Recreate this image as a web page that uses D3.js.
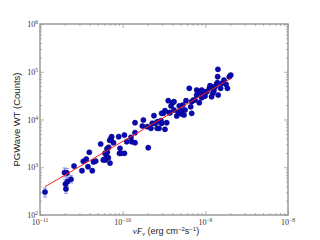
<!DOCTYPE html>
<html>
<head>
<meta charset="utf-8">
<script src="https://cdn.jsdelivr.net/npm/d3@7"></script>
<style>
  body { margin: 0; background: #fff; }
  svg { display: block; }
</style>
</head>
<body>
<div id="chart"></div>
<script>
// energy flux (erg cm^-2 s^-1) and PGWave WT counts
var fluxVals = [1.15e-11, 1.98e-11, 2.12e-11, 2.03e-11, 2.06e-11, 2.14e-11, 2.37e-11, 2.58e-11, 3.22e-11, 3.34e-11,
  3.63e-11, 3.81e-11, 3.95e-11, 4.29e-11, 4.44e-11, 4.72e-11, 5.42e-11, 5.83e-11, 6.16e-11, 6.41e-11,
  6.52e-11, 6.78e-11, 7.03e-11, 7.23e-11, 7.36e-11, 7.74e-11, 8.95e-11, 9.16e-11, 9.55e-11, 9.29e-11,
  1.05e-10, 1.05e-10, 1.12e-10, 1.26e-10, 1.29e-10, 1.41e-10, 1.41e-10, 1.41e-10, 2.04e-10, 1.78e-10,
  1.73e-10, 1.99e-10, 2.39e-10, 2.28e-10, 2.46e-10, 2.65e-10, 2.75e-10, 2.91e-10, 3.10e-10, 2.20e-10,
  2.62e-10, 2.96e-10, 3.41e-10, 3.74e-10, 3.85e-10, 3.56e-10, 4.03e-10, 4.18e-10, 4.51e-10, 4.71e-10,
  5.04e-10, 5.18e-10, 5.52e-10, 5.68e-10, 5.32e-10, 5.84e-10, 6.40e-10, 6.84e-10, 7.50e-10, 7.86e-10,
  7.86e-10, 8.22e-10, 8.61e-10, 9.03e-10, 8.45e-10, 9.03e-10, 9.91e-10, 1.04e-9, 1.12e-9, 1.17e-9,
  1.23e-9, 1.31e-9, 1.37e-9, 1.43e-9, 1.42e-9, 1.41e-9, 1.40e-9, 1.53e-9, 1.58e-9, 1.68e-9,
  1.78e-9, 1.85e-9, 1.95e-9, 2.03e-9, 9.29e-10, 1.19e-9, 1.14e-9, 1.27e-9, 9.63e-10, 7.16e-10,
  6.65e-10, 6.84e-10, 4.18e-10, 4.84e-10, 3.25e-10, 3.25e-10, 2.96e-10, 3.66e-10, 6.46e-11, 6.11e-11,
  6.70e-11, 6.00e-11, 6.97e-11];
var countVals = [303, 776, 759, 446, 351, 498, 560, 1060, 847, 1333,
  1490, 1030, 2055, 847, 1290, 1350, 3070, 1420, 1420, 1585,
  2055, 2617, 1222, 4036, 4365, 3266, 4365, 1959, 1959, 2494,
  1959, 4730, 3430, 4240, 3430, 8570, 5300, 3266, 2567, 9770,
  7310, 7060, 12030, 8320, 8320, 9000, 6540, 9440, 13500, 6540,
  6540, 8320, 8570, 13900, 19200, 24800, 22500, 15800, 11830, 13900,
  15300, 13030, 12420, 15800, 20100, 24800, 45000, 23600, 25600, 32600,
  41500, 38200, 36400, 41500, 22500, 28600, 31000, 38200, 45000, 48600,
  35400, 48600, 55400, 32600, 112500, 78700, 59000, 45000, 57300, 67200,
  54600, 45000, 78700, 85500, 30000, 30000, 51000, 40100, 38200, 25600,
  18500, 13500, 23600, 19200, 6240, 15300, 13500, 13900, 2445, 1959,
  1585, 1466, 3660];

// error bars that stick out from under the markers
var errFlux = [1.15e-11, 1.98e-11, 2.12e-11, 2.03e-11, 2.06e-11, 2.14e-11, 2.37e-11];
var errLow  = [238, 625, 615, 350, 285, 400, 470];
var errHigh = [367, 964, 940, 560, 425, 620, 665];

// fitted line endpoints
var fitFlux = [1.15e-11, 2.03e-9];
var fitCounts = [392, 72300];

var xDecades = [1e-11, 1e-10, 1e-9, 1e-8];
var xExp = ["\u221211", "\u221210", "\u22129", "\u22128"];
var yDecades = [1e2, 1e3, 1e4, 1e5, 1e6];
var yExp = ["2", "3", "4", "5", "6"];

var width = 320, height = 240,
    margin = {top: 24, right: 32, bottom: 25, left: 40};
var iw = width - margin.left - margin.right,
    ih = height - margin.top - margin.bottom;

var svg = d3.select("#chart").append("svg")
    .attr("width", width)
    .attr("height", height);

var x = d3.scaleLog().domain([1e-11, 1e-8]).range([0, iw]);
var y = d3.scaleLog().domain([1e2, 1e6]).range([ih, 0]);

var g = svg.append("g")
    .attr("transform", "translate(" + margin.left + "," + margin.top + ")");

var frameCol = "#9a9a9a";

// minor/major ticks on all four sides, pointing inward
function minorOf(scale) {
  return scale.ticks().filter(function(v) {
    var l = Math.log10(v);
    return Math.abs(l - Math.round(l)) > 1e-6;
  });
}

function tickAxis(axisFn, scale, vals, size, tr) {
  var a = g.append("g")
    .attr("transform", tr)
    .call(axisFn(scale).tickValues(vals).tickSize(size).tickFormat(""));
  a.select(".domain").remove();
  a.selectAll("line").attr("stroke", frameCol).attr("stroke-width", 0.8);
}

tickAxis(d3.axisBottom, x, xDecades, -4, "translate(0," + ih + ")");
tickAxis(d3.axisBottom, x, minorOf(x), -2, "translate(0," + ih + ")");
tickAxis(d3.axisTop, x, xDecades, -4, "translate(0,0)");
tickAxis(d3.axisTop, x, minorOf(x), -2, "translate(0,0)");
tickAxis(d3.axisLeft, y, yDecades, -4, "translate(0,0)");
tickAxis(d3.axisLeft, y, minorOf(y), -2, "translate(0,0)");
tickAxis(d3.axisRight, y, yDecades, -4, "translate(" + iw + ",0)");
tickAxis(d3.axisRight, y, minorOf(y), -2, "translate(" + iw + ",0)");

// tick labels with superscript exponents
var serif = "'Liberation Serif', 'DejaVu Serif', serif";
var xl = g.selectAll(".xlab").data(xDecades).enter().append("text")
    .attr("class", "xlab")
    .attr("x", function(d) { return x(d); })
    .attr("y", ih + 10)
    .attr("text-anchor", "middle")
    .style("font-family", serif)
    .style("font-size", "8px")
    .style("fill", "#333");
xl.append("tspan").text("10");
xl.append("tspan").attr("dy", -3).style("font-size", "5.5px")
    .text(function(d, i) { return xExp[i]; });

var yl = g.selectAll(".ylab").data(yDecades).enter().append("text")
    .attr("class", "ylab")
    .attr("x", -2)
    .attr("y", function(d) { return y(d) + 3; })
    .attr("text-anchor", "end")
    .style("font-family", serif)
    .style("font-size", "8px")
    .style("fill", "#333");
yl.append("tspan").text("10");
yl.append("tspan").attr("dy", -3).style("font-size", "5.5px")
    .text(function(d, i) { return yExp[i]; });

// error bars
var errCol = "#8f8ff0";
var eb = g.selectAll(".err").data(errFlux).enter().append("g").attr("class", "err");
eb.append("line")
    .attr("x1", function(d) { return x(d); })
    .attr("x2", function(d) { return x(d); })
    .attr("y1", function(d, i) { return y(errLow[i]); })
    .attr("y2", function(d, i) { return y(errHigh[i]); })
    .attr("stroke", errCol).attr("stroke-width", 1);
[errLow, errHigh].forEach(function(arr) {
  eb.append("line")
    .attr("x1", function(d) { return x(d) - 2; })
    .attr("x2", function(d) { return x(d) + 2; })
    .attr("y1", function(d, i) { return y(arr[i]); })
    .attr("y2", function(d, i) { return y(arr[i]); })
    .attr("stroke", errCol).attr("stroke-width", 1);
});

// data points
g.selectAll(".pt").data(fluxVals).enter().append("circle")
    .attr("class", "pt")
    .attr("cx", function(d) { return x(d); })
    .attr("cy", function(d, i) { return y(countVals[i]); })
    .attr("r", 2.6)
    .attr("fill", "#0a0ab4")
    .attr("stroke", "#00007a")
    .attr("stroke-width", 0.5);

// fit line
g.append("path")
    .datum(fitFlux)
    .attr("d", d3.line()
      .x(function(d) { return x(d); })
      .y(function(d, i) { return y(fitCounts[i]); }))
    .attr("fill", "none")
    .attr("stroke", "#ff2020")
    .attr("stroke-width", 1);

// frame
g.append("rect")
    .attr("width", iw).attr("height", ih)
    .attr("fill", "none")
    .attr("stroke", frameCol)
    .attr("stroke-width", 1.5);

// axis titles
var sans = "'Liberation Sans', 'DejaVu Sans', sans-serif";
svg.append("text")
    .attr("transform", "translate(20," + (margin.top + ih / 2) + ") rotate(-90)")
    .attr("text-anchor", "middle")
    .style("font-family", sans)
    .style("font-size", "9.5px")
    .style("fill", "#222")
    .text("PGWave WT (Counts)");

var xt = svg.append("text")
    .attr("x", margin.left + iw / 2 + 2)
    .attr("y", 234)
    .attr("text-anchor", "middle")
    .style("font-family", sans)
    .style("font-size", "9px")
    .style("fill", "#222");
xt.append("tspan").style("font-family", serif).style("font-style", "italic").text("\u03bdF");
xt.append("tspan").attr("dy", 2).style("font-family", serif).style("font-style", "italic")
    .style("font-size", "6px").text("\u03bd");
xt.append("tspan").attr("dy", -2).text(" (erg cm");
xt.append("tspan").attr("dy", -3).style("font-size", "6px").text("\u22122");
xt.append("tspan").attr("dy", 3).text("s");
xt.append("tspan").attr("dy", -3).style("font-size", "6px").text("\u22121");
xt.append("tspan").attr("dy", 3).text(")");
</script>
</body>
</html>
